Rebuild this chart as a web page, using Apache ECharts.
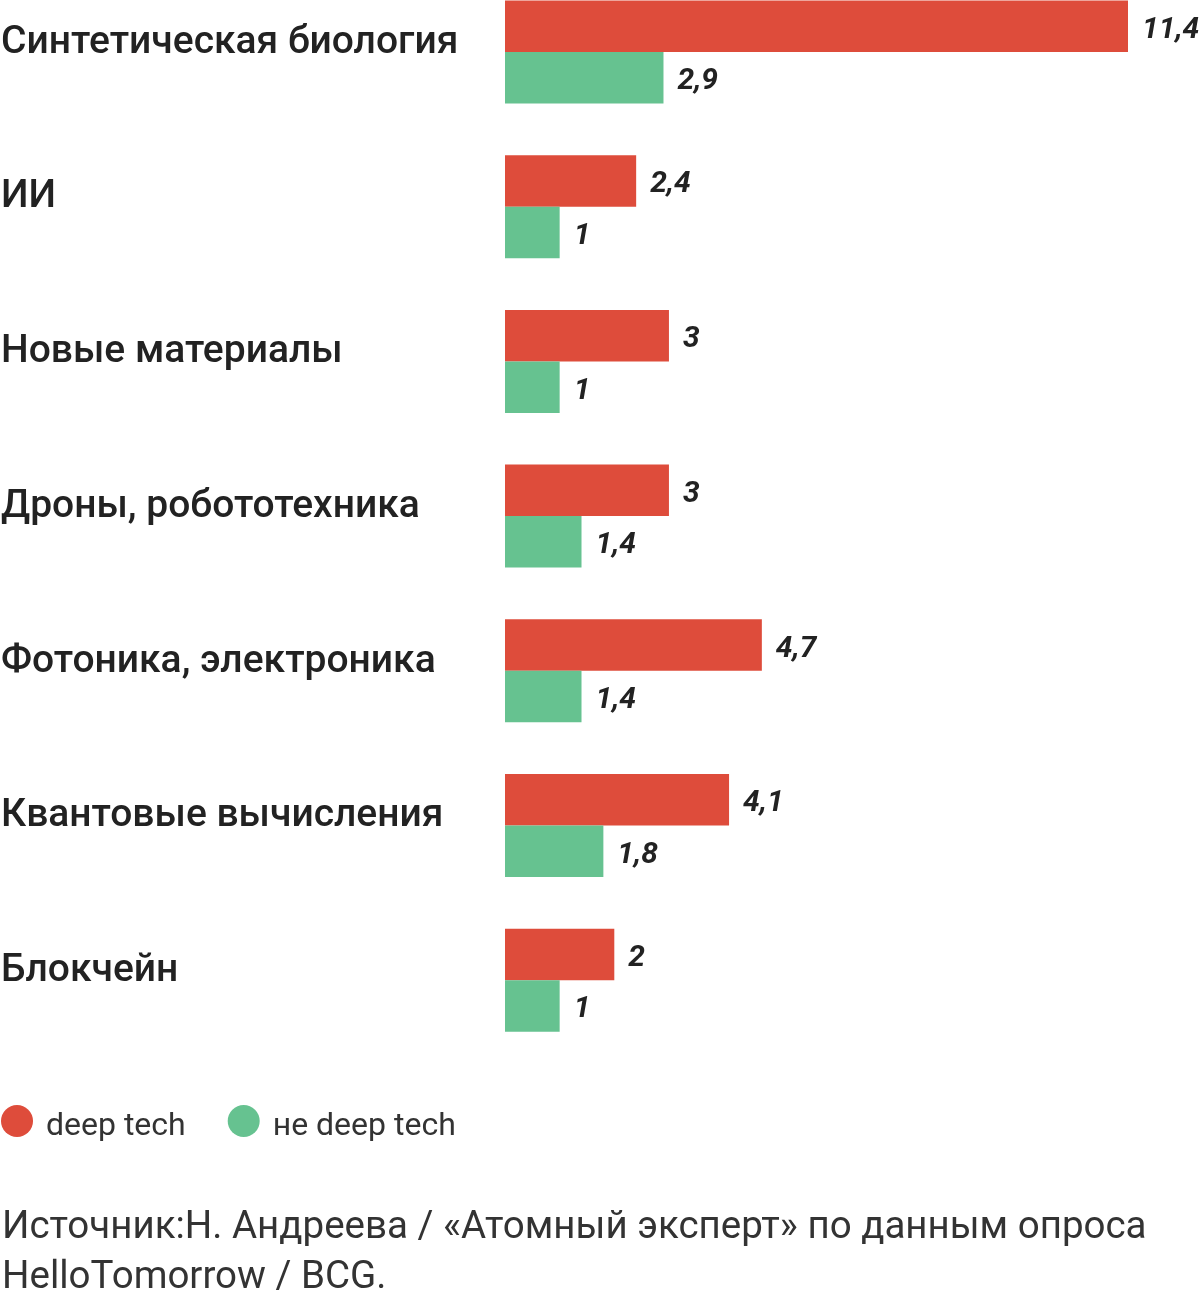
<!DOCTYPE html>
<html><head><meta charset="utf-8">
<script src="https://cdn.jsdelivr.net/npm/echarts@6/dist/echarts.min.js"></script>
<style>html,body{margin:0;padding:0;background:#fff;overflow:hidden}#c{width:1200px;height:1322px;margin-top:-30px}</style>
</head><body><div id="c"></div>
<script>
const categories = ["Синтетическая биология","ИИ","Новые материалы","Дроны, робототехника","Фотоника, электроника","Квантовые вычисления","Блокчейн"];
const deepTech = [11.4, 2.4, 3, 3, 4.7, 4.1, 2];
const notDeepTech = [2.9, 1, 1, 1.4, 1.4, 1.8, 1];
const seriesNames = ["deep tech", "не deep tech"];
const sourceText = "Источник:Н. Андреева / «Атомный эксперт» по данным опроса\nHelloTomorrow / BCG.";

const SHIFT = 30;
const chart = echarts.init(document.getElementById('c'), null, {renderer:'canvas'});
const valLabel = {
  show: true, position: 'right', distance: 14, offset: [0, 4],
  fontFamily: 'Roboto', fontStyle: 'italic', fontWeight: 'bold', fontSize: 30, color: '#222',
  formatter: p => String(p.value).replace('.', ',')
};
chart.setOption({
  animation: false,
  textStyle: {fontFamily: 'Roboto'},
  grid: {left: 505, top: -25.4 + SHIFT, width: 623, height: 1083, containLabel: false, outerBoundsMode: 'none'},
  xAxis: {type: 'value', min: 0, max: 11.4, show: false},
  yAxis: {type: 'category', data: categories, inverse: true,
    axisLine: {show: false}, axisTick: {show: false},
    axisLabel: {align: 'left', verticalAlign: 'bottom', lineHeight: 18, margin: 504,
      fontFamily: 'Roboto', fontWeight: 500, fontSize: 39, color: '#222'}
  },
  legend: {left: 1, top: 1105 + SHIFT, padding: 0, icon: 'circle', itemWidth: 32, itemHeight: 32, itemGap: 42,
    formatter: '{a|{name}}',
    textStyle: {fontFamily: 'Roboto', fontSize: 32, color: '#333',
      rich: {a: {fontFamily: 'Roboto', fontSize: 32, color: '#333', padding: [11, 0, 0, 8]}}},
    data: seriesNames},
  title: {text: sourceText, left: 2, top: 1203 + SHIFT, padding: 0,
    textStyle: {fontFamily: 'Roboto', fontWeight: 'normal', fontSize: 38.5, lineHeight: 50, color: '#333'}},
  series: [
    {name: seriesNames[0], type: 'bar', data: deepTech, barWidth: 51.5, barGap: '0%',
     itemStyle: {color: '#DE4C3B'}, label: valLabel},
    {name: seriesNames[1], type: 'bar', data: notDeepTech, barWidth: 51.5,
     itemStyle: {color: '#66C290'}, label: valLabel}
  ]
});
</script></body></html>
